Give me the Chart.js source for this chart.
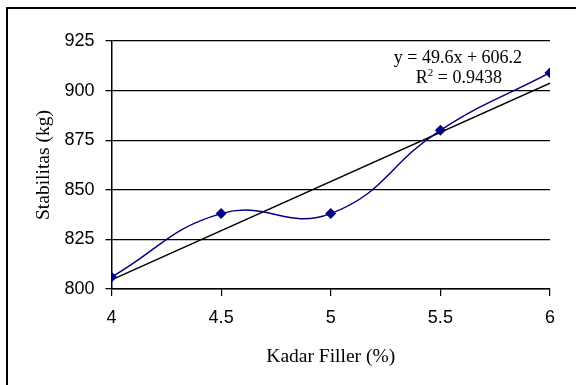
<!DOCTYPE html>
<html>
<head>
<meta charset="utf-8">
<script src="https://cdn.jsdelivr.net/npm/chart.js@4/dist/chart.umd.min.js"></script>
<style>
  html, body { margin: 0; padding: 0; background: #fff; }
  #wrap { width: 576px; height: 385px; }
</style>
</head>
<body>
<div id="wrap"><canvas id="c" width="576" height="385"></canvas></div>
<script>
// ---- data ----
const fillerContent = [4, 4.5, 5, 5.5, 6];            // Kadar Filler (%)
const stability = [806, 838, 838, 880, 909];          // Stabilitas (kg)
const trendX = [4, 6];                                // linear trendline endpoints
const trendY = [804.6, 903.8];                        // y = 49.6x + 606.2
const equationLine1 = 'y = 49.6x + 606.2';
const equationLine2 = ['R', '2', ' = 0.9438'];        // R² with superscript
const yTicks = [800, 825, 850, 875, 900, 925];
const xTicks = [4, 4.5, 5, 5.5, 6];

const NAVY = '#000080';
const SERIF = '"Liberation Serif", "Times New Roman", serif';
const SANS = '"Liberation Sans", Arial, sans-serif';

const frame = {
  id: 'frame',
  beforeDraw(chart) {
    const ctx = chart.ctx;
    ctx.save();
    ctx.fillStyle = '#fff';
    ctx.fillRect(0, 0, chart.width, chart.height);
    ctx.strokeStyle = '#000';
    ctx.lineWidth = 2;
    ctx.strokeRect(7, 8, chart.width + 20, chart.height + 20);
    ctx.restore();
  }
};

const equation = {
  id: 'equation',
  afterDatasetsDraw(chart) {
    const ctx = chart.ctx;
    const xs = chart.scales.x, ys = chart.scales.y;
    const cx = xs.getPixelForValue(5.58);
    ctx.save();
    ctx.fillStyle = '#000';
    ctx.textBaseline = 'alphabetic';
    ctx.font = '18px ' + SERIF;
    ctx.textAlign = 'center';
    ctx.fillText(equationLine1, cx, ys.getPixelForValue(913.8));
    // second line with superscript
    ctx.textAlign = 'left';
    const big = '18px ' + SERIF, small = '11px ' + SERIF;
    ctx.font = big;
    const wR = ctx.measureText(equationLine2[0]).width;
    const wRest = ctx.measureText(equationLine2[2]).width;
    ctx.font = small;
    const w2 = ctx.measureText(equationLine2[1]).width;
    const total = wR + w2 + wRest;
    let x = cx + 1 - total / 2;
    const by = ys.getPixelForValue(904.0);
    ctx.font = big;
    ctx.fillText(equationLine2[0], x, by);
    x += wR;
    ctx.font = small;
    ctx.fillText(equationLine2[1], x, by - 7);
    x += w2;
    ctx.font = big;
    ctx.fillText(equationLine2[2], x, by);
    ctx.restore();
  }
};

new Chart(document.getElementById('c'), {
  type: 'scatter',
  data: {
    datasets: [
      {
        label: 'Stabilitas',
        data: fillerContent.map((x, i) => ({ x, y: stability[i] })),
        showLine: true,
        borderColor: NAVY,
        backgroundColor: NAVY,
        borderWidth: 1.5,
        tension: 0.45,
        pointStyle: 'rectRot',
        pointRadius: 5.5,
        pointBorderWidth: 0,
        pointBackgroundColor: NAVY,
        order: 1
      },
      {
        label: 'Linear',
        data: trendX.map((x, i) => ({ x, y: trendY[i] })),
        showLine: true,
        borderColor: '#000',
        borderWidth: 1.5,
        pointRadius: 0,
        tension: 0,
        order: 2
      }
    ]
  },
  options: {
    responsive: false,
    animation: false,
    layout: { padding: { left: 0, top: 41, right: 26, bottom: 0 } },
    plugins: {
      legend: { display: false },
      tooltip: { enabled: false }
    },
    scales: {
      x: {
        type: 'linear',
        min: 4, max: 6,
        afterFit(s) { s.height = 96; },
        afterBuildTicks(s) { s.ticks = xTicks.map(v => ({ value: v })); },
        ticks: {
          color: '#000',
          padding: 11,
          font: { family: SANS, size: 18 },
          callback: (v) => String(v)
        },
        grid: { drawOnChartArea: false, drawTicks: true, tickLength: 7, color: '#000', lineWidth: 1.2 },
        border: { color: '#000', width: 1.5 },
        title: {
          display: true,
          text: 'Kadar Filler (%)',
          color: '#000',
          font: { family: SERIF, size: 19.5 },
          padding: { top: 0, bottom: 16 }
        }
      },
      y: {
        type: 'linear',
        min: 800, max: 925,
        afterFit(s) { s.width = 111.5; },
        afterBuildTicks(s) { s.ticks = yTicks.map(v => ({ value: v })); },
        ticks: {
          color: '#000',
          padding: 11,
          font: { family: SANS, size: 18 }
        },
        grid: { drawOnChartArea: true, drawTicks: true, tickLength: 6, color: '#000', lineWidth: 1.3 },
        border: { color: '#000', width: 1.5 },
        title: {
          display: true,
          text: 'Stabilitas (kg)',
          color: '#000',
          font: { family: SERIF, size: 19.5 },
          padding: { top: 32, bottom: 0 }
        }
      }
    }
  },
  plugins: [frame, equation]
});
</script>
</body>
</html>
